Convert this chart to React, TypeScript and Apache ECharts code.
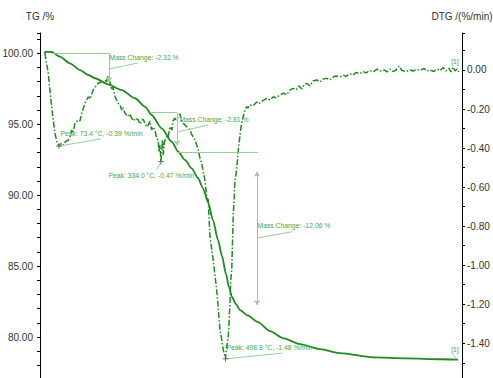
import React, { useEffect, useRef } from 'react';
import * as echarts from 'echarts';

const FONT = '"Liberation Sans", Arial, sans-serif';

// Thermogravimetric mass (%), [temperature °C, mass %]
const tgCurve: [number, number][] = [
  [35.8, 100.0], [40.2, 100.11], [54.7, 100.09], [75.9, 99.76], [101.5, 99.29],
  [127.1, 98.82], [148.3, 98.47], [165.4, 98.24], [199.4, 97.81], [233.6, 97.41],
  [267.6, 96.83], [293.1, 96.24], [310.2, 95.65], [335.8, 94.71], [361.4, 93.77],
  [378.2, 93.06], [395.3, 92.48], [412.4, 91.89], [428.5, 91.21], [441.3, 90.5],
  [454.1, 89.52], [466.9, 88.24], [479.7, 86.84], [489.9, 85.71], [500.1, 84.44],
  [507.8, 83.52], [515.4, 82.82], [525.6, 82.32], [535.9, 81.9], [556.3, 81.51],
  [581.8, 81.05], [612.5, 80.42], [645.7, 79.92], [689.2, 79.5], [740.3, 79.15],
  [791.4, 78.86], [875.7, 78.57], [962.5, 78.5], [1046.9, 78.43], [1092.8, 78.41],
];

// Derivative of mass loss (%/min), [temperature °C, rate]
const dtgCurve: [number, number][] = [
  [37.6, 0.086], [46.1, -0.017], [54.7, -0.188], [63.2, -0.324], [68.5, -0.37],
  [73.4, -0.39], [80.3, -0.375], [83.6, -0.385], [88.7, -0.369], [97.2, -0.359],
  [101.5, -0.343], [105.8, -0.307], [109.2, -0.323], [114.3, -0.273], [122.7, -0.256],
  [127.1, -0.261], [131.4, -0.222], [139.8, -0.171], [148.3, -0.137], [152.6, -0.149],
  [161.0, -0.102], [167.9, -0.082], [173.8, -0.068], [182.5, -0.06], [188.4, -0.067],
  [190.9, -0.051], [195.3, -0.06], [197.8, -0.031], [199.4, -0.043], [203.7, -0.061],
  [208.0, -0.102], [211.4, -0.087], [216.5, -0.137], [224.9, -0.171], [229.3, -0.179],
  [233.6, -0.205], [236.9, -0.19], [242.0, -0.222], [250.5, -0.239], [254.8, -0.225],
  [259.1, -0.247], [265.0, -0.261], [267.6, -0.247], [276.0, -0.256], [280.4, -0.277],
  [284.7, -0.265], [288.0, -0.251], [293.1, -0.273], [298.2, -0.292], [301.6, -0.282],
  [305.9, -0.261], [310.2, -0.307], [313.6, -0.292], [318.7, -0.307], [323.0, -0.35],
  [327.1, -0.359], [328.9, -0.42], [331.5, -0.384], [334.0, -0.47], [335.8, -0.419],
  [337.8, -0.359], [339.9, -0.435], [342.9, -0.367], [348.6, -0.342], [351.9, -0.348],
  [357.0, -0.29], [362.1, -0.307], [364.7, -0.261], [369.8, -0.247], [372.3, -0.256],
  [378.2, -0.239], [382.6, -0.225], [386.9, -0.265], [391.0, -0.273], [397.9, -0.287],
  [403.8, -0.299], [408.1, -0.307], [413.2, -0.333], [420.9, -0.359], [425.2, -0.384],
  [429.3, -0.41], [433.6, -0.451], [438.0, -0.478], [442.1, -0.523], [446.4, -0.564],
  [450.7, -0.649], [454.8, -0.666], [459.1, -0.854], [467.5, -0.973], [476.3, -1.127],
  [479.6, -1.204], [484.7, -1.332], [488.6, -1.373], [493.2, -1.434], [498.8, -1.48],
  [501.9, -1.418], [506.0, -1.366], [510.3, -1.195], [512.4, -1.076], [514.7, -1.025],
  [517.2, -0.854], [518.8, -0.734], [520.5, -0.683], [523.1, -0.564], [525.6, -0.538],
  [529.5, -0.461], [531.5, -0.41], [535.9, -0.333], [539.7, -0.277], [544.3, -0.236],
  [548.6, -0.205], [553.0, -0.188], [556.3, -0.195], [561.4, -0.179], [569.1, -0.184],
  [578.5, -0.164], [584.4, -0.174], [592.1, -0.159], [604.1, -0.145], [612.5, -0.154],
  [620.9, -0.137], [627.8, -0.143], [638.0, -0.128], [646.5, -0.119], [655.9, -0.126],
  [663.6, -0.102], [672.0, -0.094], [678.9, -0.102], [686.6, -0.082], [694.3, -0.097],
  [699.4, -0.077], [706.3, -0.068], [714.7, -0.082], [722.4, -0.056], [731.8, -0.051],
  [740.3, -0.061], [747.9, -0.046], [757.4, -0.043], [765.8, -0.051], [773.5, -0.036],
  [781.1, -0.031], [791.4, -0.036], [799.0, -0.026], [806.7, -0.033], [816.9, -0.02],
  [824.6, -0.026], [832.2, -0.013], [842.5, -0.018], [850.1, -0.008], [857.8, -0.015],
  [868.0, -0.003], [876.5, -0.01], [886.0, 0.005], [893.6, -0.005], [903.8, 0.0],
  [911.5, -0.01], [919.1, 0.005], [926.8, -0.008], [934.4, 0.0], [942.1, 0.02],
  [949.8, -0.003], [960.0, -0.008], [970.2, 0.0], [977.9, -0.005], [988.1, 0.003],
  [995.8, -0.003], [1006.0, 0.008], [1013.6, -0.005], [1021.3, 0.0], [1031.5, -0.008],
  [1039.2, 0.005], [1046.9, -0.003], [1054.5, 0.013], [1062.2, -0.005], [1069.8, 0.008],
  [1074.9, -0.01], [1080.0, 0.015], [1085.2, -0.005], [1090.3, 0.005], [1095.4, -0.01],
];

// Mass-change steps: [start °C, end °C, upper %, lower %, change %]
const massSteps: [number, number, number, number, number][] = [
  [54.7, 201.2, 100.0, 97.68, -2.32],
  [305.9, 374.9, 95.81, 93.0, -2.81],
  [374.9, 579.3, 93.0, 80.94, -12.06],
];

// DTG peaks: [temperature °C, rate %/min]
const dtgPeaks: [number, number][] = [
  [73.4, -0.39],
  [334.0, -0.47],
  [498.8, -1.48],
];

// Labelled ticks on the DTG axis (the rest of the 0.1 ticks stay unlabelled)
const dtgTickLabels = [0, -0.2, -0.4, -0.6, -0.8, -1.0, -1.2, -1.4];

const TEMP_MIN = 25;
const TEMP_MAX = 1103;

const CURVE = '#1f8a1f';
const NOTE_LINE = '#98cf98';
const NOTE_TEXT = '#45a845';

const noteLabel = (coord: [number, number], text: string) => ({
  coord,
  symbol: 'circle',
  symbolSize: 1,
  itemStyle: { color: 'rgba(0,0,0,0)' },
  label: {
    show: true,
    position: 'right',
    distance: 0,
    formatter: text,
    color: NOTE_TEXT,
    fontSize: 6.8,
    fontFamily: FONT,
  },
});

const seg = (a: [number, number], b: [number, number], endSym = 'none', startSym = 'none') => [
  { coord: a, symbol: startSym, symbolSize: 5 },
  { coord: b, symbol: endSym, symbolSize: 5 },
];

const fmt = (v: number) => (Math.round(v * 100) / 100).toFixed(2);

export default function App() {
  const ref = useRef<HTMLDivElement>(null);

  useEffect(() => {
    const chart = echarts.init(ref.current!, null, { renderer: 'svg' });

    const [s1, s2, s3] = massSteps;
    const [p1, p2, p3] = dtgPeaks;

    const option = {
      animation: false,
      textStyle: { fontFamily: FONT },
      grid: [
        { left: 40, right: 31, top: 33, height: 346.56, outerBoundsMode: 'none', containLabel: false },
        { left: 40, right: 31, top: 33, height: 349.3, outerBoundsMode: 'none', containLabel: false },
      ],
      xAxis: [
        { type: 'value', gridIndex: 0, min: TEMP_MIN, max: TEMP_MAX, show: false },
        { type: 'value', gridIndex: 1, min: TEMP_MIN, max: TEMP_MAX, show: false },
      ],
      yAxis: [
        {
          type: 'value',
          gridIndex: 0,
          position: 'left',
          min: 77,
          max: 101.43,
          interval: 1,
          name: 'TG /%',
          nameLocation: 'end',
          nameGap: 12,
          nameTextStyle: { color: '#333', fontSize: 10, align: 'center', fontFamily: FONT },
          axisLine: { show: true, lineStyle: { color: '#000', width: 1 } },
          axisTick: { show: true, length: 3, lineStyle: { color: '#000' } },
          axisLabel: {
            margin: 7,
            fontSize: 10,
            color: '#333',
            fontFamily: FONT,
            formatter: (v: number) =>
              v >= 80 && Math.abs(v / 5 - Math.round(v / 5)) < 1e-6 ? fmt(v) : '',
          },
          splitLine: { show: false },
        },
        {
          type: 'value',
          gridIndex: 1,
          position: 'right',
          min: -1.6,
          max: 0.1895,
          interval: 0.1,
          name: 'DTG /(%/min)',
          nameLocation: 'end',
          nameGap: 12,
          nameTextStyle: { color: '#333', fontSize: 10, align: 'center', fontFamily: FONT },
          axisLine: { show: true, lineStyle: { color: '#000', width: 1 } },
          axisTick: { show: true, length: 3, lineStyle: { color: '#000' } },
          axisLabel: {
            margin: 5,
            fontSize: 10,
            color: '#333',
            fontFamily: FONT,
            formatter: (v: number) =>
              dtgTickLabels.some((t) => Math.abs(t - v) < 1e-6) ? fmt(v) : '',
          },
          splitLine: { show: false },
        },
      ],
      series: [
        {
          name: 'TG',
          type: 'line',
          xAxisIndex: 0,
          yAxisIndex: 0,
          data: tgCurve,
          showSymbol: false,
          symbol: 'none',
          smooth: 0.25,
          smoothMonotone: 'x',
          lineStyle: { color: CURVE, width: 1.8 },
          silent: true,
          markLine: {
            silent: true,
            symbol: ['none', 'none'],
            label: { show: false },
            lineStyle: { color: NOTE_LINE, width: 1, type: 'solid' },
            data: [
              seg([s1[0], s1[2]], [s1[1], s1[2]]),
              seg([s1[1], s1[2]], [s1[1], s1[3] + 0.3], 'arrow'),
              seg([s1[1], 98.89], [275.1, 99.32]),
              seg([s2[0], s2[2]], [s2[1], s2[2]]),
              seg([s2[1], s2[2]], [s2[1], s2[3] + 0.5], 'arrow'),
              seg([s3[0], s3[2]], [s3[1] + 2.5, s3[2]]),
              seg([s2[1], 94.45], [454.1, 94.94]),
              seg([s3[1], 91.65], [s3[1], 82.25], 'arrow', 'arrow'),
              seg([s3[1], 86.97], [668.7, 87.42]),
              seg([1080, 78.78], [1090, 78.43]),
            ],
          },
          markPoint: {
            silent: true,
            data: [
              noteLabel([s1[1], 99.69], `Mass Change: ${s1[4].toFixed(2)} %`),
              noteLabel([s2[1] + 5, 95.3], `Mass Change: ${s2[4].toFixed(2)} %`),
              noteLabel([s3[1], 87.84], `Mass Change: ${s3[4].toFixed(2)} %`),
              noteLabel([1074, 79.1], '[1]'),
            ],
          },
        },
        {
          name: 'DTG',
          type: 'line',
          xAxisIndex: 1,
          yAxisIndex: 1,
          data: dtgCurve,
          showSymbol: false,
          symbol: 'none',
          lineStyle: { color: CURVE, width: 1.5, type: [6, 2, 1.5, 2] },
          silent: true,
          markLine: {
            silent: true,
            symbol: ['none', 'none'],
            label: { show: false },
            lineStyle: { color: NOTE_LINE, width: 1, type: 'solid' },
            data: [
              seg([p1[0], p1[1]], [180.7, -0.353]),
              seg([p2[0], p2[1]], [323.8, -0.512]),
              seg([p3[0], p3[1]], [645.7, -1.45]),
            ],
          },
          markPoint: {
            silent: true,
            data: [
              noteLabel([76, -0.323], `Peak: ${p1[0].toFixed(1)} °C, ${p1[1].toFixed(2)} %/min`),
              noteLabel([198.6, -0.538], `Peak: ${p2[0].toFixed(1)} °C, ${p2[1].toFixed(2)} %/min`),
              noteLabel([500.1, -1.421], `Peak: ${p3[0].toFixed(1)} °C, ${p3[1].toFixed(2)} %/min`),
              noteLabel([1074, 0.046], '[1]'),
              ...dtgPeaks.map((p) => ({
                coord: p,
                symbol: 'path://M4.4,0h1.2v10h-1.2zM0,4.4h10v1.2h-10z',
                symbolSize: 6,
                itemStyle: { color: '#555' },
                label: { show: false },
              })),
            ],
          },
        },
      ],
    };

    chart.setOption(option as any);
    return () => chart.dispose();
  }, []);

  return (
    <div
      ref={ref}
      style={{ position: 'fixed', left: 0, top: 0, width: 493, height: 378, background: '#fff' }}
    />
  );
}
